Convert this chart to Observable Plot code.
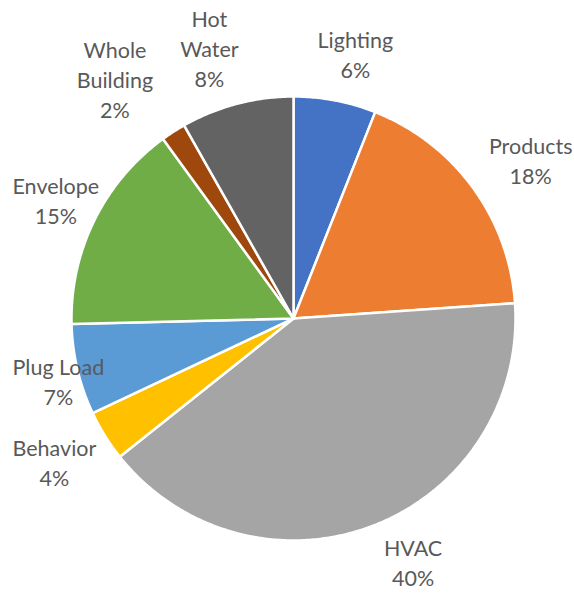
<!DOCTYPE html>
<html>
<head>
<meta charset="utf-8">
<script src="https://cdn.jsdelivr.net/npm/d3@7"></script>
<script src="https://cdn.jsdelivr.net/npm/@observablehq/plot@0.6"></script>
<style>
  html, body { margin: 0; padding: 0; background: #fff; }
  #chart { width: 574px; height: 593px; }
</style>
</head>
<body>
<div id="chart"></div>
<script>
// ---- data ----
const categories = ["Lighting", "Products", "HVAC", "Behavior", "Plug Load", "Envelope", "Whole Building", "Hot Water"];
const shares = [6.0, 17.9, 40.4, 3.7, 6.6, 15.4, 1.8, 8.2];
const labelNames = ["Lighting", "Products", "HVAC", "Behavior", "Plug Load", "Envelope", "Whole\nBuilding", "Hot\nWater"];
const colors = ["#4472C4", "#ED7D31", "#A5A5A5", "#FFC000", "#5B9BD5", "#70AD47", "#9E480E", "#636363"];

// ---- layout ----
const W = 574, H = 593;
const cx = 293, cy = 318, R = 222;
const fontSize = 21.5, lineH = 30;
const labelRy = 240, labelRx = 330;

const total = d3.sum(shares);
const pie = d3.pie().sort(null).value(d => d.value)(categories.map((c, i) => ({cat: c, value: shares[i], i})));

// polygon points for each slice (angle measured clockwise from 12 o'clock)
const slicePts = [];
pie.forEach(p => {
  const a0 = p.startAngle, a1 = p.endAngle;
  const n = Math.max(2, Math.ceil((a1 - a0) / 0.01));
  slicePts.push({cat: p.data.cat, x: 0, y: 0});
  for (let k = 0; k <= n; k++) {
    const a = a0 + (a1 - a0) * k / n;
    slicePts.push({cat: p.data.cat, x: R * Math.sin(a), y: -R * Math.cos(a)});
  }
});

// label placement
const ctx = document.createElement("canvas").getContext("2d");
ctx.font = `${fontSize}px Lato`;
const labels = pie.map(p => {
  const i = p.data.i;
  const text = labelNames[i] + "\n" + Math.round(shares[i] / total * 100) + "%";
  const lines = text.split("\n");
  const w = d3.max(lines, l => ctx.measureText(l).width);
  const h = lines.length * lineH;
  const a = (p.startAngle + p.endAngle) / 2;
  let x = labelRx * Math.sin(a);
  let y = -labelRy * Math.cos(a) - (h / 2) * Math.cos(a);
  // clamp box into the chart area
  const minX = 12 - cx, maxX = W - 2 - cx, minY = 2 - cy, maxY = H - 2 - cy;
  x = Math.max(minX + w / 2, Math.min(maxX - w / 2, x));
  y = Math.max(minY + h / 2, Math.min(maxY - h / 2, y));
  return {x, y, text};
});

const chart = Plot.plot({
  width: W,
  height: H,
  margin: 0,
  x: {domain: [-cx, W - cx], range: [0, W], axis: null},
  y: {domain: [-cy, H - cy], range: [0, H], axis: null},
  color: {domain: categories, range: colors},
  style: {background: "#fff", fontFamily: "Lato, sans-serif"},
  marks: [
    Plot.line(slicePts, {x: "x", y: "y", z: "cat", fill: "cat", stroke: "#fff", strokeWidth: 2.5, strokeLinejoin: "round", curve: "linear-closed"}),
    Plot.text(labels, {x: "x", y: "y", text: "text", fontSize, lineHeight: lineH / fontSize, fill: "#595959", textAnchor: "middle", lineAnchor: "middle"})
  ]
});
document.getElementById("chart").appendChild(chart);
</script>
</body>
</html>
